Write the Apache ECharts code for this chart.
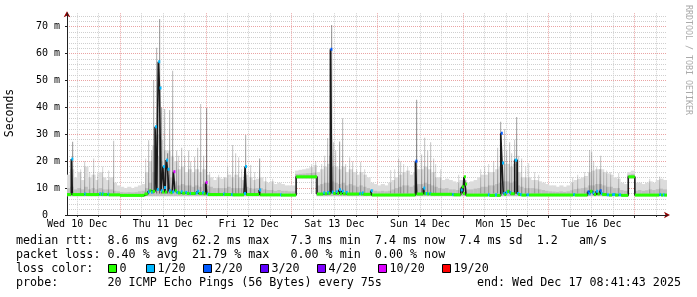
<!DOCTYPE html>
<html><head><meta charset="utf-8">
<script src="https://cdn.jsdelivr.net/npm/echarts@6/dist/echarts.min.js"></script>
<style>html,body{margin:0;padding:0;background:#fff}#c{width:697px;height:297px}</style>
</head><body><div id="c"></div>
<script>
// ---- axis / tick data (time in hours since Wed 10 Dec 00:00) ----
const xMinHour = 9.15;
const xMaxHour = 177.15;
const dayLabelHours = [12, 36, 60, 84, 108, 132, 156];
const dayLabels = ['Wed 10 Dec', 'Thu 11 Dec', 'Fri 12 Dec', 'Sat 13 Dec', 'Sun 14 Dec', 'Mon 15 Dec', 'Tue 16 Dec'];
const midnightHours = [24, 48, 72, 96, 120, 144, 168];
const sixHourGridHours = [12, 18, 30, 36, 42, 54, 60, 66, 78, 84, 90, 102, 108, 114, 126, 132, 138, 150, 156, 162, 174];
const yMajorTicks = [0, 10, 20, 30, 40, 50, 60, 70];
const yMinorTicks = [2, 4, 6, 8, 12, 14, 16, 18, 22, 24, 26, 28, 32, 34, 36, 38, 42, 44, 46, 48, 52, 54, 56, 58, 62, 64, 66, 68, 72, 74];
const yMaxMs = 75;

// ---- smoke (ping spread) per hour column, starting at hour 9 ----
const smokeFirstHour = 9;
const smokeHigh = [
  15,17,14,16,13,18,14,15,13,16,14,13,14,12,11,
  10.5,10,10.5,10,10.5,11,11.5,16,20,26,30,28,24,24,22,20,17,18,16,17,16,17,16,17,
  15,14,13,14,13.5,14,15,14,15,14,13,15,14,13,13.5,14,12.5,12,12.5,11.5,12,11.5,11,11,
  11,16.5,16.8,17,17.3,17.8,18.5,16,17,18,19,18,18,17,18,16,17,16,15,16,15,14,12,11.5,
  11,11.5,11,12,13,14,15,16,16.5,15,16,17,17,18,17,16,14,14,13,13.5,13,12.5,12,13,
  13,12,12.5,13,14,15,15,16,16,17,18,19,19,18,19,16,14,14,14,13,13,12.5,12,11.5,
  11,11,10.5,11,10.5,11,12,13,13.5,14,14.5,16,16.5,17,17,16,15.5,15,14,13.5,12,11.5,16,16.5,12,12,11.5,12,12.5,12,13,13.5,13
];
const smokeMid = [
  10,10.5,9.5,10,9.5,10.5,9.5,10,9.5,10,9.5,9.5,9.5,9,8.8,
  8.5,8.4,8.5,8.4,8.5,8.8,9,10,12,16,22,20,16,15,14,12.5,11,11.5,11,11,10.5,11,10.5,11.5,
  11,10.5,10,10,10,10,10.5,10,10,10,10,10.5,10,9.8,10,10,9.5,9.3,9.3,9,9.3,9,9,8.8,
  8.8,15.2,15.3,15.4,15.5,15.6,15.8,11,11.5,12,12,12.5,12,11.5,12,11,11.5,11,10.5,11,10.5,10,9.5,9,
  8.8,9,8.8,9,9.5,10,10.5,11,11,10.5,11,11.5,11.5,12,11.5,11,10.5,10,9.8,10,9.5,9.5,9.3,10,
  10,9.5,9.5,9.8,10,10.5,10.5,11,11,11.5,12,12.5,12.5,12,12.5,11,10.5,10,10,10,9.8,9.5,9.3,9,
  8.8,8.7,8.6,8.8,8.6,8.8,9.2,9.6,9.8,10,10.2,11,11,11.5,11.5,11,10.5,10.5,10,10,9.3,9,15,15.2,9,9.3,9,9.2,9.5,9.3,9.6,9.8,9.5
];
const smokeLow = [
  7,7,7,7,7,7,7,7,7,7,7,7,7,7,7,
  6.9,6.9,6.9,6.9,6.9,6.9,6.9,7,7,7,7,7,7,7,7,7,7,7,7,7,7,7,7,7,
  7,7,7,7,7,7,7,7,7,7,7,7,7,7,7,7,7,7,7,7,7,7,7,7,
  7,13.6,13.6,13.6,13.6,13.6,13.6,7,7,7,7,7,7,7,7,7,7,7,7,7,7,7,7,7,
  7,7,7,7,7,7,7,7,7,7,7,7,7,7,7,7,7,7,7,7,7,7,7,7,
  7,7,7,7,7,7,7,7,7,7,7,7,7,7,7,7,7,7,7,7,7,7,7,7,
  7,7,7,7,7,7,7,7,7,7,7,7,7,7,7,7,7,7,7,7,7,7,13.6,13.6,7,7,7,7,7,7,7,7,7
];

// ---- thin smoke spikes (single high pings) ----
const spikeHours = [10.5,12.9,14.0,15.2,16.5,17.6,19.0,20.5,22.1,
  30.9,31.8,32.6,33.3,34.05,35.0,35.5,36.3,37.1,37.6,38.6,39.6,40.3,41.0,42.0,42.9,43.7,44.7,45.5,46.4,47.1,47.95,
  48.8,51.5,53.0,54.0,55.4,56.2,57.0,58.0,59.1,60.5,61.5,63.0,64.5,66.5,
  77.5,78.7,80.2,81.0,81.9,82.5,83.1,83.7,84.3,85.4,86.2,87.1,88.2,89.0,90.1,91.2,92.3,
  99.6,100.6,101.8,102.4,103.3,104.4,106.9,108.3,109.1,110.0,110.7,111.6,112.3,113.5,118.5,
  124.8,126.0,127.0,128.3,129.6,130.4,131.4,132.1,132.8,133.5,134.2,134.8,135.5,136.3,137.3,138.2,139.8,141.0,
  150.5,152.0,153.8,155.3,155.9,156.5,157.3,158.0,158.4,159.2,160.0,161.2,163.4,172.0,175.0];
const spikeTops = [27.2,17,20,16,21,15.5,18,16.5,27.6,
  21,27.8,24,50.2,62.2,72.9,40,39.4,23,39,53.6,24,22,25,22,24,20,21.7,25,41.3,22,39.8,
  16,15,14,18,26,23,21.5,17,29.7,18.6,16,21,14,13.5,
  19,20,19,22,28.6,22,70.6,27,24,27.3,36,19,21.5,20,17,19.8,17,
  16.7,17,21,20,19,18,42.8,22.5,28.7,24,27,21,19,17,15,
  17,18,19,20,25,34.7,32,24,27,23,28,36.4,22,21,18,19.2,16,15,
  14,15,16,24.2,23.5,20,18,17,22,17,16.5,16,15.6,13.5,14.3];
const spikeDensity = [0.5,0.2,0.25,0.2,0.25,0.2,0.2,0.2,0.3,
  0.2,0.3,0.3,0.35,0.4,0.5,0.5,0.35,0.6,0.35,0.35,0.3,0.25,0.3,0.25,0.3,0.25,0.3,0.3,0.3,0.3,0.5,
  0.2,0.2,0.2,0.2,0.3,0.25,0.25,0.2,0.4,0.25,0.2,0.5,0.2,0.2,
  0.2,0.25,0.2,0.25,0.3,0.3,0.55,0.3,0.3,0.45,0.35,0.25,0.25,0.25,0.2,0.25,0.2,
  0.2,0.2,0.25,0.25,0.2,0.2,0.5,0.3,0.3,0.3,0.3,0.25,0.2,0.2,0.2,
  0.2,0.2,0.2,0.25,0.3,0.45,0.3,0.3,0.3,0.25,0.3,0.45,0.25,0.25,0.2,0.2,0.2,0.2,
  0.2,0.2,0.2,0.3,0.3,0.25,0.2,0.2,0.3,0.2,0.2,0.2,0.2,0.2,0.2];

// ---- median rtt (ms) change points and loss level index ----
const medianHours = [9.15,10.35,10.65,14.0,14.35,18.2,18.6,19.0,19.3,20.5,20.8,24.0,30.8,31.8,32.2,32.7,33.1,33.8,34.3,34.7,35.05,35.45,35.8,36.0,36.3,36.6,36.9,37.3,37.7,38.1,38.6,38.95,39.35,39.8,40.2,41.0,41.4,42.3,42.7,43.5,43.8,45.2,45.6,46.0,47.0,47.4,47.95,48.3,48.6,
  52.9,53.2,55.1,55.5,58.7,59.0,59.35,62.95,63.25,68.8,69.1,73.3,79.15,80.9,81.3,82.0,82.4,82.9,83.3,83.7,84.4,84.8,85.3,85.6,86.1,86.4,87.2,87.5,91.0,91.4,91.7,92.1,94.2,94.5,
  106.7,107.05,108.9,109.2,109.6,110.0,110.6,110.9,117.0,117.4,119.4,119.7,120.0,120.3,120.6,120.9,127.0,127.4,129.0,129.5,130.6,130.95,131.3,131.6,132.0,132.4,133.0,133.4,134.5,135.2,135.5,136.0,136.4,137.8,138.5,
  150.9,151.3,154.9,155.2,155.6,156.3,156.7,157.3,157.7,158.3,158.6,159.0,160.3,160.9,161.8,162.6,163.6,164.3,166.3,168.15,175.0,175.5,176.0,176.4];
const medianValues = [7.6,20.8,7.6,7.8,7.6,7.9,7.7,7.8,7.6,7.7,7.5,7.3,7.8,8.6,9.0,8.5,8.8,32.8,9.5,57.0,47.2,9.0,8.5,18.0,10.2,8.5,20.4,17.0,9.0,8.3,8.6,16.1,9.0,8.4,8.2,8.6,8.1,8.4,8.0,8.0,8.0,8.2,8.8,8.0,8.3,7.9,12.1,7.8,7.6,
  7.8,7.6,7.6,7.5,8.0,18.0,7.6,9.3,7.5,7.5,7.4,14.2,7.8,8.2,7.9,8.4,8.0,61.6,8.5,8.0,8.6,8.0,9.4,7.9,8.8,7.9,8.4,7.8,8.0,7.8,8.2,7.7,9.0,7.4,
  20.0,7.8,10.0,7.9,8.0,7.8,8.0,7.7,7.6,7.5,9.3,10.5,8.0,14.2,11.5,7.4,7.5,7.3,7.5,7.3,30.4,19.3,8.0,7.6,8.4,8.8,8.3,7.9,20.4,8.0,7.6,7.6,7.4,7.5,7.4,
  7.6,7.4,8.6,7.9,8.8,8.2,7.6,8.8,7.8,9.0,8.0,7.6,7.5,7.4,7.6,7.4,7.5,7.3,14.2,7.4,7.6,7.4,7.5,7.4];
const medianLoss = [0,1,0,1,0,1,0,1,0,1,0,0,0,1,0,1,0,1,1,1,1,1,0,1,1,0,1,1,1,0,1,5,0,1,0,1,0,1,0,1,0,1,1,0,1,0,5,1,0,
  1,0,1,0,1,1,0,1,0,1,0,0,0,1,0,1,0,2,1,0,1,0,1,0,1,0,1,0,1,0,1,0,1,0,
  2,0,1,0,1,0,1,0,1,0,1,0,0,0,0,0,1,0,1,0,2,1,1,0,1,0,1,0,1,1,0,1,0,1,0,
  1,0,2,1,0,1,0,1,0,2,1,0,1,0,1,0,1,0,0,0,1,0,1,0];

// ---- loss colour legend ----
const lossLabels = ['0', '1/20', '2/20', '3/20', '4/20', '10/20', '19/20'];
const lossColors = ['#26ff00', '#00b8ff', '#0059ff', '#5e00ff', '#7e00ff', '#dd00ff', '#ff0000'];

// ---- legend text ----
const legendLines = [
  'median rtt:  8.6 ms avg  62.2 ms max   7.3 ms min  7.4 ms now  7.4 ms sd  1.2   am/s',
  'packet loss: 0.40 % avg  21.79 % max   0.00 % min  0.00 % now',
  'loss color:',
  'probe:       20 ICMP Echo Pings (56 Bytes) every 75s'
];
const endText = 'end: Wed Dec 17 08:41:43 2025';

// ================= build =================
const chart = echarts.init(document.getElementById('c'), null, {renderer: 'canvas'});
const MONO = '"DejaVu Sans Mono"';

const smokeData = smokeHigh.map((h, i) => [smokeFirstHour + i, smokeLow[i], smokeMid[i], h]);
const spikeData = spikeHours.map((t, i) => [t, spikeTops[i], spikeDensity[i]]);
const medianLine = medianHours.map((t, i) => [t, medianValues[i]]);
medianLine.push([xMaxHour, medianValues[medianValues.length - 1]]);
const lossSegs = medianHours.map((t, i) => [t, i + 1 < medianHours.length ? medianHours[i + 1] : xMaxHour, medianValues[i], medianLoss[i]]);

function clipTo(cs, r) {
  return echarts.graphic.clipRectByRect(r, {x: cs.x, y: cs.y, width: cs.width, height: cs.height});
}

function renderSmoke(params, api) {
  const h = api.value(0);
  const a = api.coord([h, api.value(1)]);
  const m = api.coord([h, api.value(2)]);
  const b = api.coord([h + 1, api.value(3)]);
  const cs = params.coordSys;
  const w = b[0] - a[0] + 0.6;
  const r1 = clipTo(cs, {x: a[0], y: b[1], width: w, height: a[1] - b[1]});
  const r2 = clipTo(cs, {x: a[0], y: m[1], width: w, height: a[1] - m[1]});
  const children = [];
  if (r1) children.push({type: 'rect', shape: r1, style: {fill: '#dcdcdc'}});
  if (r2) children.push({type: 'rect', shape: r2, style: {fill: '#bfbfbf'}});
  return {type: 'group', children};
}

function renderSpike(params, api) {
  const t = api.value(0), d = api.value(2);
  const p0 = api.coord([t, 8]);
  const p1 = api.coord([t, api.value(1)]);
  const r = clipTo(params.coordSys, {x: Math.round(p0[0]), y: p1[1], width: 1.2, height: p0[1] - p1[1]});
  if (!r) return null;
  return {type: 'rect', shape: r, style: {fill: new echarts.graphic.LinearGradient(0, 0, 0, 1, [
    {offset: 0, color: 'rgba(70,70,70,' + (d * 0.9) + ')'},
    {offset: 1, color: 'rgba(70,70,70,' + Math.min(1, d * 1.6) + ')'}
  ])}};
}

function renderLoss(params, api) {
  const p0 = api.coord([api.value(0), api.value(2)]);
  const p1 = api.coord([api.value(1), api.value(2)]);
  const w = Math.max(p1[0] - p0[0], 2);
  const r = clipTo(params.coordSys, {x: p0[0], y: p0[1] - 1.5, width: w, height: 3});
  if (!r) return null;
  return {type: 'rect', shape: r, style: {fill: lossColors[api.value(3)]}};
}

// graphic elements (titles + legend)
const g = [];
g.push({type: 'text', x: 10, y: 113, rotation: Math.PI / 2, style: {text: 'Seconds', font: '11.5px ' + MONO, fill: '#000', align: 'center', verticalAlign: 'middle'}});
g.push({type: 'text', x: 688, y: 60, rotation: -Math.PI / 2, style: {text: 'RRDTOOL / TOBI OETIKER', font: '8.3px ' + MONO, fill: '#aaaaaa', align: 'center', verticalAlign: 'middle'}});
const lineY = [241, 255, 269, 283];
legendLines.forEach((s, i) => {
  g.push({type: 'text', x: 16, y: lineY[i], style: {text: s, font: '11.7px ' + MONO, fill: '#000', align: 'left', verticalAlign: 'middle'}});
});
g.push({type: 'text', x: 681, y: lineY[3], style: {text: endText, font: '11.7px ' + MONO, fill: '#000', align: 'right', verticalAlign: 'middle'}});
const boxX = [108, 146, 203, 260, 317, 378, 442];
lossLabels.forEach((lab, i) => {
  g.push({type: 'rect', shape: {x: boxX[i] + 0.5, y: 264.5, width: 8, height: 8}, style: {fill: lossColors[i], stroke: '#000', lineWidth: 1}});
  g.push({type: 'text', x: boxX[i] + 11.5, y: lineY[2], style: {text: lab, font: '11.7px ' + MONO, fill: '#000', align: 'left', verticalAlign: 'middle'}});
});

const ARROW = '#8f0000';
const option = {
  animation: false,
  backgroundColor: '#ffffff',
  grid: {left: 67, right: 30, top: 13.25, bottom: 82, containLabel: false},
  xAxis: [
    {type: 'value', min: xMinHour, max: xMaxHour, position: 'bottom', z: 0,
      axisLine: {show: true, onZero: false, lineStyle: {color: ARROW, width: 1}, symbol: ['none', 'arrow'], symbolSize: [5, 6], symbolOffset: [0, 3]},
      axisTick: {show: true, customValues: sixHourGridHours, length: 2, lineStyle: {color: '#333'}},
      axisLabel: {show: false},
      splitLine: {show: true, lineStyle: {color: '#cfcfcf', width: 1, type: [1, 1]}}
    },
    {type: 'value', min: xMinHour, max: xMaxHour, position: 'bottom', z: 1,
      axisLine: {show: true, onZero: false, lineStyle: {color: '#222', width: 1}},
      axisTick: {show: true, customValues: midnightHours, length: 3, lineStyle: {color: '#222'}},
      axisLabel: {show: true, customValues: dayLabelHours, margin: 4, color: '#000', fontFamily: 'DejaVu Sans Mono', fontSize: 10,
        formatter: v => dayLabels[dayLabelHours.indexOf(v)] || ''},
      splitLine: {show: true, lineStyle: {color: '#eaa3a3', width: 1, type: [1, 1]}}
    }
  ],
  yAxis: [
    {type: 'value', min: 0, max: yMaxMs, position: 'left', offset: 0, z: 0,
      axisLine: {show: true, onZero: false, lineStyle: {color: ARROW, width: 1}, symbol: ['none', 'arrow'], symbolSize: [5, 6], symbolOffset: [0, 2]},
      axisTick: {show: false, customValues: yMinorTicks},
      axisLabel: {show: false},
      splitLine: {show: true, lineStyle: {color: '#cfcfcf', width: 1, type: [1, 1]}}
    },
    {type: 'value', min: 0, max: yMaxMs, position: 'left', offset: 0, z: 1,
      axisLine: {show: true, onZero: false, lineStyle: {color: '#222', width: 1}},
      axisTick: {show: true, customValues: yMajorTicks, length: 2, lineStyle: {color: '#222'}},
      axisLabel: {show: true, customValues: yMajorTicks, margin: 7, color: '#000', fontFamily: 'DejaVu Sans Mono', fontSize: 10,
        formatter: v => (v === 0 ? '0  ' : v + ' m')},
      splitLine: {show: true, lineStyle: {color: '#eaa3a3', width: 1, type: [1, 1]}}
    }
  ],
  series: [
    {type: 'custom', name: 'smoke', xAxisIndex: 1, yAxisIndex: 1, data: smokeData, renderItem: renderSmoke, z: 2, silent: true},
    {type: 'custom', name: 'spikes', xAxisIndex: 1, yAxisIndex: 1, data: spikeData, renderItem: renderSpike, z: 3, silent: true},
    {type: 'line', name: 'median', xAxisIndex: 1, yAxisIndex: 1, data: medianLine, step: 'end', symbol: 'none', showSymbol: false,
      lineStyle: {color: '#1a1a1a', width: 1.6}, z: 4, silent: true},
    {type: 'custom', name: 'loss', xAxisIndex: 1, yAxisIndex: 1, data: lossSegs, renderItem: renderLoss, z: 5, silent: true}
  ],
  graphic: {elements: g}
};
chart.setOption(option);
</script>
</body></html>
